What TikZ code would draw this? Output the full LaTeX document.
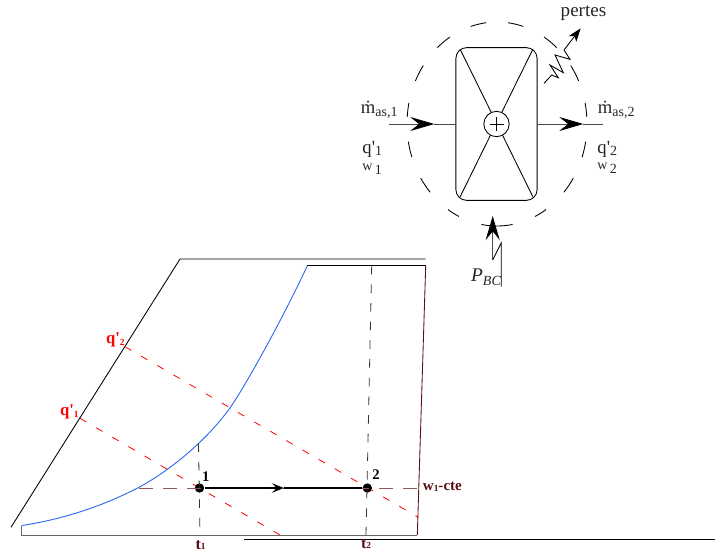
\documentclass[tikz,border=0pt]{standalone}
\usepackage{amsmath, amssymb}
\usepackage{fontspec}
\setmainfont{Liberation Serif}
\usetikzlibrary{positioning, arrows.meta}

\definecolor{maroon}{HTML}{5A0F14}
\definecolor{dimbrown}{HTML}{8A5A5A}
\definecolor{curveblue}{HTML}{2F6BEF}

\newcommand{\bigsz}{\fontsize{14pt}{15pt}\selectfont}
\newcommand{\subsz}{\fontsize{10.5pt}{11pt}\selectfont}
\newcommand{\tinysz}{\fontsize{7pt}{8pt}\selectfont}

\tikzset{
  linebox/.style={rectangle, draw, rounded corners=8pt, minimum width=60.9pt, minimum height=114.5pt, inner sep=0pt},
  hub/.style={circle, draw, fill=white, minimum size=19pt, inner sep=0pt},
  txt/.style={inner sep=0pt, text=black!85},
  redlab/.style={inner sep=0pt, text=red, font=\bfseries\fontsize{12.5pt}{14pt}\selectfont},
  darklab/.style={inner sep=0pt, text=maroon, font=\bfseries\fontsize{12pt}{13pt}\selectfont},
  numlab/.style={inner sep=0pt, font=\bfseries\fontsize{11pt}{12pt}\selectfont},
  statept/.style={circle, fill=black, minimum size=7pt, inner sep=0pt},
  bigtip/.style={-{Stealth[length=18pt,width=10.5pt,inset=6.5pt,color=black]}},
  redline/.style={red, dash pattern=on 5.5pt off 8.5pt, line width=0.6pt},
  vertdash/.style={black!80, dash pattern=on 6.5pt off 7.5pt, line width=0.6pt},
  isow/.style={dimbrown, dash pattern=on 10.5pt off 7.5pt, line width=0.75pt}
}

\begin{document}
\begin{tikzpicture}[x=0.75pt, y=0.75pt, yscale=-1, line width=0.65pt]
\useasboundingbox (0,0) rectangle (715,551);

% control volume
\node (box) [linebox] at (496.5,124) {};
\foreach \a/\b in {73/83,48.5/58.5,25/35,4/12,-19/-10,-42/-32,-65/-57,-100/-80,97/107,121.5/131.5,145/155,168/176,190/199,212/222,237/245}
  \draw ({497+90*cos(-\a)},{124+102*sin(-\a)}) arc[start angle=-\a, end angle=-\b, x radius=90, y radius=102];

\coordinate (tl) at (460,49);
\coordinate (tr) at (533,49);
\coordinate (bl) at (460,197);
\coordinate (br) at (533,197);
\draw (tl) -- (br);
\draw (tr) -- (bl);
\node (fan) [hub] at (496.5,124) {};
\draw (fan.center) ++(-7,0) -- ++(14,0);
\draw (fan.center) ++(0,-7) -- ++(0,14);

% flows
\coordinate (inl) at (389.3,124);
\coordinate (inltip) at (434.3,124);
\coordinate (outr) at (603.3,124);
\coordinate (outrtip) at (583.3,124);
\draw[bigtip, draw=black!70] (inl) -- (inltip);
\draw[draw=black!70] (inltip) -- (box.west);
\draw[bigtip, draw=black!70] (box.east) -- (outrtip);
\draw[draw=black!70] (outrtip) -- (outr);

\node (m1) [txt, anchor=west, font=\bigsz] at (360.5,110) {\.m\raisebox{-2pt}{\subsz as,1}};
\node (q1) [txt, anchor=west, font=\bigsz] at (362,149) {q\textquotesingle\raisebox{-2pt}{\subsz 1}};
\node (w1) [txt, anchor=west, font=\subsz] at (362,169) {w\raisebox{-3pt}{\,\subsz 1}};
\node (m2) [txt, anchor=west, font=\bigsz] at (597.5,110) {\.m\raisebox{-2pt}{\subsz as,2}};
\node (q2) [txt, anchor=west, font=\bigsz] at (597,149) {q\textquotesingle\raisebox{-2pt}{\subsz 2}};
\node (w2) [txt, anchor=west, font=\subsz] at (597,168) {w\raisebox{-3pt}{\,\subsz 2}};

% losses
\coordinate (z0) at (544,83.3);
\coordinate (z1) at (564,50);
\coordinate (ztip) at (580.7,28.3);
\draw (z0) -- (551.7,75) -- (558.3,77.7) -- (550,65) -- (563.3,72.7) -- (555,55) -- (570,59.3) -- (z1);
\draw[-{Stealth[length=10pt,width=7pt,inset=2.5pt]}] (z1) -- (ztip);
\node (pertes) [txt, anchor=center, font=\fontsize{14.3pt}{15pt}\selectfont] at (583.5,13) {pertes};

% compressor work
\coordinate (pb) at (492.7,260);
\coordinate (pt) at (492.7,216);
\draw[bigtip, draw=black!70] (pb) -- (pt);
\draw (pb) -- (501.3,242.7) -- (501.3,286.7);
\node (pbc) [txt, font=\itshape\fontsize{14.5pt}{15pt}\selectfont] at (486,277) {P\raisebox{-3pt}{\fontsize{10.5pt}{11pt}\selectfont BC}};

% chart frame
\coordinate (top0) at (180,259);
\coordinate (top1) at (425.7,259);
\coordinate (sat) at (11,527.3);
\coordinate (up0) at (307.3,265.7);
\coordinate (up1) at (425.7,265.7);
\coordinate (dn0) at (21.7,535);
\coordinate (dn1) at (417.3,535);
\coordinate (crv0) at (21.7,525.5);
\coordinate (ax0) at (244.3,539.5);
\coordinate (ax1) at (715,539.5);

\draw (sat) -- (top0) -- (top1);
\draw (up0) -- (up1);
\draw[draw=black!60, line width=0.75pt] (crv0) -- (dn0) -- (dn1);
\draw[maroon] (up1) -- (dn1);
\draw (ax0) -- (ax1);

% saturation curve
\coordinate (crv1) at (139,487.3);
\coordinate (crv2) at (230,408);
\draw[curveblue, line width=0.7pt] (crv0) .. controls (65,519) and (105,505) .. (crv1)
  .. controls (170,470.5) and (206,441) .. (crv2)
  .. controls (248,382) and (288,308) .. (up0);

% red lines
\coordinate (qa) at (80,418.3);
\coordinate (qb) at (280,535);
\coordinate (qc) at (125,346.7);
\coordinate (qd) at (418.3,517.3);
\draw[redline] (qa) -- (qb);
\draw[redline] (qc) -- (qd);

% states
\node (pt1) [statept] at (199.5,488) {};
\node (pt2) [statept] at (367.3,488) {};
\coordinate (isoa) at (139,488);
\coordinate (isob) at (419,488);
\coordinate (ta) at (198.5,443.3);
\coordinate (tb) at (200,535);
\coordinate (tc) at (371.7,265.7);
\coordinate (td) at (366,535);
\coordinate (mid) at (284,488);
\draw[vertdash] (ta) -- (tb);
\draw[vertdash] (tc) -- (td);
\draw[isow] (isoa) -- (isob);
\draw[line width=1.7pt, -{Stealth[length=9pt,width=7pt,inset=3.5pt]}] (pt1) -- (mid);
\draw[line width=1.7pt] (mid) -- (pt2);

\node (lab1) [numlab] at (205.7,477) {1};
\node (lab2) [numlab] at (376,474.5) {2};
\node (qa1) [redlab, anchor=east] at (79,412) {q\textquotesingle\raisebox{-1pt}{\tinysz 1}};
\node (qa2) [redlab, anchor=east] at (125,340) {q\textquotesingle\raisebox{-1pt}{\tinysz 2}};
\node (t1) [darklab] at (200.5,545) {t\raisebox{-0.5pt}{\tinysz 1}};
\node (t2) [darklab] at (366,544) {t\raisebox{-0.5pt}{\tinysz 2}};
\node (wcte) [darklab, anchor=west, font=\bfseries\fontsize{11.3pt}{12pt}\selectfont] at (422.5,487) {w\raisebox{-0.5pt}{\tinysz 1}-cte};
\end{tikzpicture}
\end{document}
